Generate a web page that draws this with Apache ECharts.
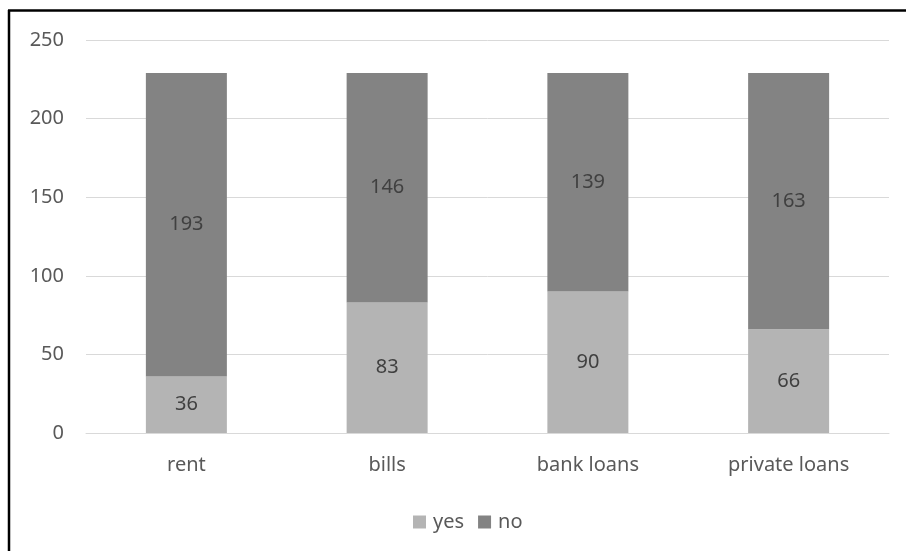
<!DOCTYPE html>
<html><head><meta charset="utf-8">
<script src="https://cdn.jsdelivr.net/npm/echarts@6/dist/echarts.min.js"></script>
<style>html,body{margin:0;padding:0;background:#fff}#c{width:906px;height:551px}</style>
</head><body><div id="c"></div>
<script>
const categories = ['rent', 'bills', 'bank loans', 'private loans'];
const yesValues = [36, 83, 90, 66];
const noValues = [193, 146, 139, 163];
const yTicks = {min: 0, max: 250, interval: 50};

const chart = echarts.init(document.getElementById('c'), null, {renderer: 'canvas'});
const font = 'Noto Sans';
const fs = 20;
const labelStyle = {show: true, position: 'inside', color: '#404040', fontSize: fs, fontFamily: font};
chart.setOption({
  animation: false,
  backgroundColor: '#fff',
  grid: {left: 86, right: 17, top: 40, bottom: 118, containLabel: false},
  legend: {
    left: 408, top: 507, itemWidth: 13, itemHeight: 13, itemGap: 14,
    icon: 'rect',
    textStyle: {color: '#595959', fontSize: fs, fontFamily: font, padding: [0, 0, 0, 2]},
    data: ['yes', 'no']
  },
  xAxis: {
    type: 'category', data: categories,
    axisLine: {show: true, lineStyle: {color: '#d9d9d9', width: 1}},
    axisTick: {show: false},
    axisLabel: {color: '#595959', fontSize: fs, fontFamily: font, margin: 22}
  },
  yAxis: {
    type: 'value', min: yTicks.min, max: yTicks.max, interval: yTicks.interval,
    axisLine: {show: false}, axisTick: {show: false},
    splitLine: {lineStyle: {color: '#d9d9d9', width: 1}},
    axisLabel: {color: '#595959', fontSize: fs, fontFamily: font, margin: 22}
  },
  series: [
    {name: 'yes', type: 'bar', stack: 'total', data: yesValues, barWidth: 81,
     itemStyle: {color: '#b4b4b4'}, label: labelStyle},
    {name: 'no', type: 'bar', stack: 'total', data: noValues, barWidth: 81,
     itemStyle: {color: '#838383'}, label: labelStyle}
  ],
  graphic: [
    {type: 'line', shape: {x1: 8, y1: 10.5, x2: 906, y2: 10.5}, style: {stroke: '#000', lineWidth: 2.5}, silent: true},
    {type: 'line', shape: {x1: 9, y1: 10, x2: 9, y2: 551}, style: {stroke: '#000', lineWidth: 2.5}, silent: true}
  ]
});
</script></body></html>
